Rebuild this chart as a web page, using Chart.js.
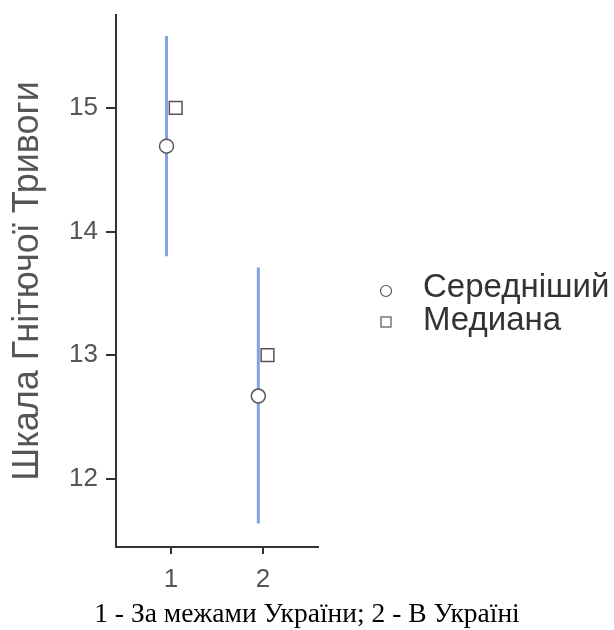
<!DOCTYPE html>
<html>
<head>
<meta charset="utf-8">
<script src="https://cdn.jsdelivr.net/npm/chart.js@4.4.1/dist/chart.umd.min.js"></script>
<style>
  body { margin: 0; background: #fff; }
  #wrap { width: 614px; height: 630px; }
</style>
</head>
<body>
<div id="wrap"><canvas id="plot" width="614" height="630"></canvas></div>
<script>
// data
var groups = [1, 2];
var groupTitle = "1 - За межами України; 2 - В Україні";
var means = [14.69, 12.67];
var medians = [15, 13];
var ciLow = [13.80, 11.64];
var ciHigh = [15.58, 13.71];
var yTicks = [12, 13, 14, 15];
var seriesNames = ["Середніший", "Медиана"];

var dodge = 0.05;
var barColor = '#84a1e0';
var axisColor = '#333';
var sans = '"Liberation Sans", Arial, sans-serif';

var meanPts = groups.map(function (g, i) { return { x: g - dodge, y: means[i] }; });
var medPts = groups.map(function (g, i) { return { x: g + dodge, y: medians[i] }; });

// vertical error bars behind the points
var errorBars = {
  id: 'errorBars',
  beforeDatasetsDraw: function (chart) {
    var c = chart.ctx, xs = chart.scales.x, ys = chart.scales.y;
    c.save();
    c.strokeStyle = barColor;
    c.lineWidth = 3;
    groups.forEach(function (g, i) {
      var px = xs.getPixelForValue(g - dodge);
      c.beginPath();
      c.moveTo(px, ys.getPixelForValue(ciHigh[i]));
      c.lineTo(px, ys.getPixelForValue(ciLow[i]));
      c.stroke();
    });
    c.restore();
  }
};

// legend at the right and the x title centred on the page
var extras = {
  id: 'extras',
  afterDraw: function (chart) {
    var c = chart.ctx;
    c.save();
    var lx = 386, ly = [291, 322];
    c.strokeStyle = '#555';
    c.lineWidth = 1.2;
    c.fillStyle = '#fff';
    c.beginPath();
    c.arc(lx, ly[0], 5.5, 0, Math.PI * 2);
    c.fill(); c.stroke();
    c.fillRect(lx - 5, ly[1] - 5, 10, 10);
    c.strokeRect(lx - 5, ly[1] - 5, 10, 10);

    c.font = '33px ' + sans;
    c.fillStyle = '#333';
    c.textAlign = 'left';
    c.textBaseline = 'alphabetic';
    c.fillText(seriesNames[0], 423, 297);
    c.fillText(seriesNames[1], 423, 330);

    c.font = '27.5px "Liberation Serif", "Times New Roman", serif';
    c.fillStyle = '#000';
    c.textAlign = 'center';
    c.fillText(groupTitle, chart.width / 2, 622);
    c.restore();
  }
};

var ctx = document.getElementById("plot").getContext('2d');
var myChart = new Chart(ctx, {
  type: 'scatter',
  data: {
    datasets: [{
      label: seriesNames[0],
      data: meanPts,
      pointStyle: 'circle',
      pointRadius: 7,
      pointHoverRadius: 7,
      pointBackgroundColor: '#fff',
      pointBorderColor: '#555',
      pointBorderWidth: 1.5
    }, {
      label: seriesNames[1],
      data: medPts,
      pointStyle: 'rect',
      pointRadius: 9,
      pointHoverRadius: 9,
      pointBackgroundColor: '#fff',
      pointBorderColor: '#555',
      pointBorderWidth: 1.5
    }]
  },
  options: {
    responsive: false,
    animation: false,
    layout: { padding: { top: 15, right: 296, left: 0, bottom: 0 } },
    plugins: {
      legend: { display: false },
      tooltip: { enabled: false }
    },
    scales: {
      x: {
        type: 'linear',
        min: 0.4,
        max: 2.6,
        afterBuildTicks: function (axis) {
          axis.ticks = groups.map(function (g) { return { value: g }; });
        },
        afterFit: function (axis) {
          axis.height = 83;
          axis.paddingLeft = 0; axis.paddingRight = 0;
        },
        ticks: {
          color: '#555',
          font: { family: sans, size: 26 },
          padding: 10
        },
        grid: { drawOnChartArea: false, drawTicks: true, tickLength: 7, color: axisColor, lineWidth: 2 },
        border: { display: true, color: axisColor, width: 2 }
      },
      y: {
        min: 11.45,
        max: 15.75,
        afterBuildTicks: function (axis) {
          axis.ticks = yTicks.map(function (v) { return { value: v }; });
        },
        afterFit: function (axis) {
          axis.width = 116;
          axis.paddingTop = 0; axis.paddingBottom = 0;
        },
        ticks: {
          color: '#555',
          font: { family: sans, size: 26 },
          padding: 8
        },
        title: {
          display: true,
          text: 'Шкала Гнітючої Тривоги',
          color: '#555',
          font: { family: sans, size: 36 },
          padding: { top: 6, bottom: 0 }
        },
        grid: { drawOnChartArea: false, drawTicks: true, tickLength: 10, color: axisColor, lineWidth: 2 },
        border: { display: true, color: axisColor, width: 2 }
      }
    }
  },
  plugins: [errorBars, extras]
});
</script>
</body>
</html>
